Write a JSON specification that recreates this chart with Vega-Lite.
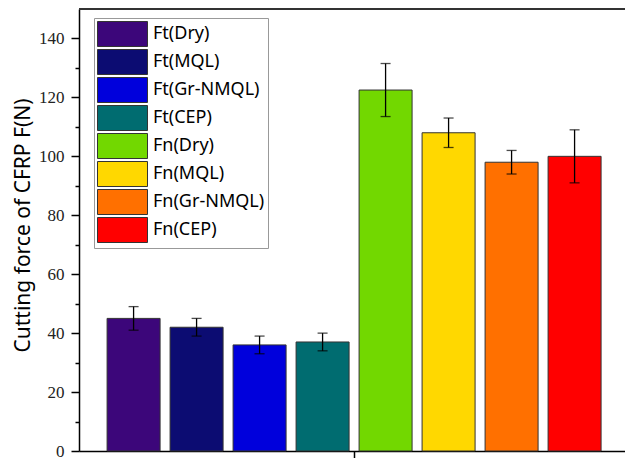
{
  "$schema": "https://vega.github.io/schema/vega-lite/v6.json",
  "width": 546,
  "height": 442,
  "autosize": "none",
  "padding": {"left": 79, "top": 9, "right": 0, "bottom": 7},
  "background": "white",
  "config": {
    "view": {"stroke": null},
    "axis": {"labelFont": "serif", "labelFontSize": 17, "labelColor": "#222222"}
  },
  "data": {
    "values": [
      {"cat": "Ft(Dry)", "mean": 45, "lo": 41, "hi": 49},
      {"cat": "Ft(MQL)", "mean": 42, "lo": 39, "hi": 45},
      {"cat": "Ft(Gr-NMQL)", "mean": 36, "lo": 33, "hi": 39},
      {"cat": "Ft(CEP)", "mean": 37, "lo": 34, "hi": 40},
      {"cat": "Fn(Dry)", "mean": 122.5, "lo": 113.5, "hi": 131.5},
      {"cat": "Fn(MQL)", "mean": 108, "lo": 103, "hi": 113},
      {"cat": "Fn(Gr-NMQL)", "mean": 98, "lo": 94, "hi": 102},
      {"cat": "Fn(CEP)", "mean": 100, "lo": 91, "hi": 109}
    ]
  },
  "resolve": {"axis": {"y": "independent"}},
  "layer": [
    {
      "mark": {"type": "bar", "stroke": "#333333", "strokeWidth": 1},
      "encoding": {
        "x": {
          "field": "cat", "type": "nominal", "sort": null,
          "scale": {"paddingInner": 0.1587, "paddingOuter": 0.4127, "align": 0.54},
          "axis": {
            "title": null, "labels": false, "values": ["Fn(Dry)"],
            "bandPosition": 0, "tickOffset": -5, "tickSize": 7, "tickWidth": 1.5,
            "tickColor": "#000000", "domainColor": "#000000", "domainWidth": 1.5, "grid": false
          }
        },
        "y": {
          "field": "mean", "type": "quantitative",
          "scale": {"domain": [0, 150], "nice": false},
          "axis": {
            "orient": "left",
            "values": [0, 20, 40, 60, 80, 100, 120, 140],
            "grid": false, "tickSize": 8, "tickWidth": 1.5, "tickColor": "#000000",
            "domainColor": "#000000", "domainWidth": 1.5,
            "labelFont": "serif", "labelFontSize": 17, "labelColor": "#222222", "labelPadding": 7,
            "title": "Cutting force of CFRP F(N)", "titleFont": "Noto Sans", "titleFontSize": 21,
            "titleFontWeight": "normal", "titleColor": "#000000", "titleX": -46, "titleY": 216
          }
        },
        "color": {
          "field": "cat", "type": "nominal", "sort": null,
          "scale": {
            "domain": ["Ft(Dry)", "Ft(MQL)", "Ft(Gr-NMQL)", "Ft(CEP)", "Fn(Dry)", "Fn(MQL)", "Fn(Gr-NMQL)", "Fn(CEP)"],
            "range": ["#3c067a", "#0c0c72", "#0000dc", "#006c70", "#72d800", "#ffd800", "#ff7000", "#ff0000"]
          },
          "legend": {
            "title": null, "orient": "none", "legendX": 15, "legendY": 9,
            "symbolType": "M-1,-1H3V1H-1Z", "symbolSize": 625,
            "symbolStrokeColor": "#333333", "symbolStrokeWidth": 1, "symbolOpacity": 1,
            "labelFont": "Noto Sans", "labelFontSize": 18, "labelColor": "#000000", "labelOffset": 30,
            "rowPadding": -2.5, "padding": 3, "strokeColor": "#999999", "fillColor": "white", "labelLimit": 300
          }
        }
      }
    },
    {
      "mark": {"type": "rule", "color": "#000000", "strokeWidth": 1.3},
      "encoding": {
        "x": {"field": "cat", "type": "nominal", "sort": null},
        "y": {
          "field": "lo", "type": "quantitative",
          "axis": {
            "orient": "left", "values": [10, 30, 50, 70, 90, 110, 130],
            "labels": false, "domain": false, "grid": false, "title": null,
            "tickSize": 4, "tickWidth": 1.5, "tickColor": "#000000"
          }
        },
        "y2": {"field": "hi"}
      }
    },
    {
      "mark": {"type": "tick", "color": "#000000", "size": 10, "thickness": 1.3},
      "encoding": {
        "x": {"field": "cat", "type": "nominal", "sort": null},
        "y": {"field": "lo", "type": "quantitative", "axis": null}
      }
    },
    {
      "mark": {"type": "tick", "color": "#000000", "size": 10, "thickness": 1.3},
      "encoding": {
        "x": {"field": "cat", "type": "nominal", "sort": null},
        "y": {"field": "hi", "type": "quantitative", "axis": null}
      }
    },
    {
      "mark": {"type": "rule", "color": "#333333", "strokeWidth": 2},
      "encoding": {
        "y": {"datum": 150, "type": "quantitative", "axis": null}
      }
    }
  ]
}
